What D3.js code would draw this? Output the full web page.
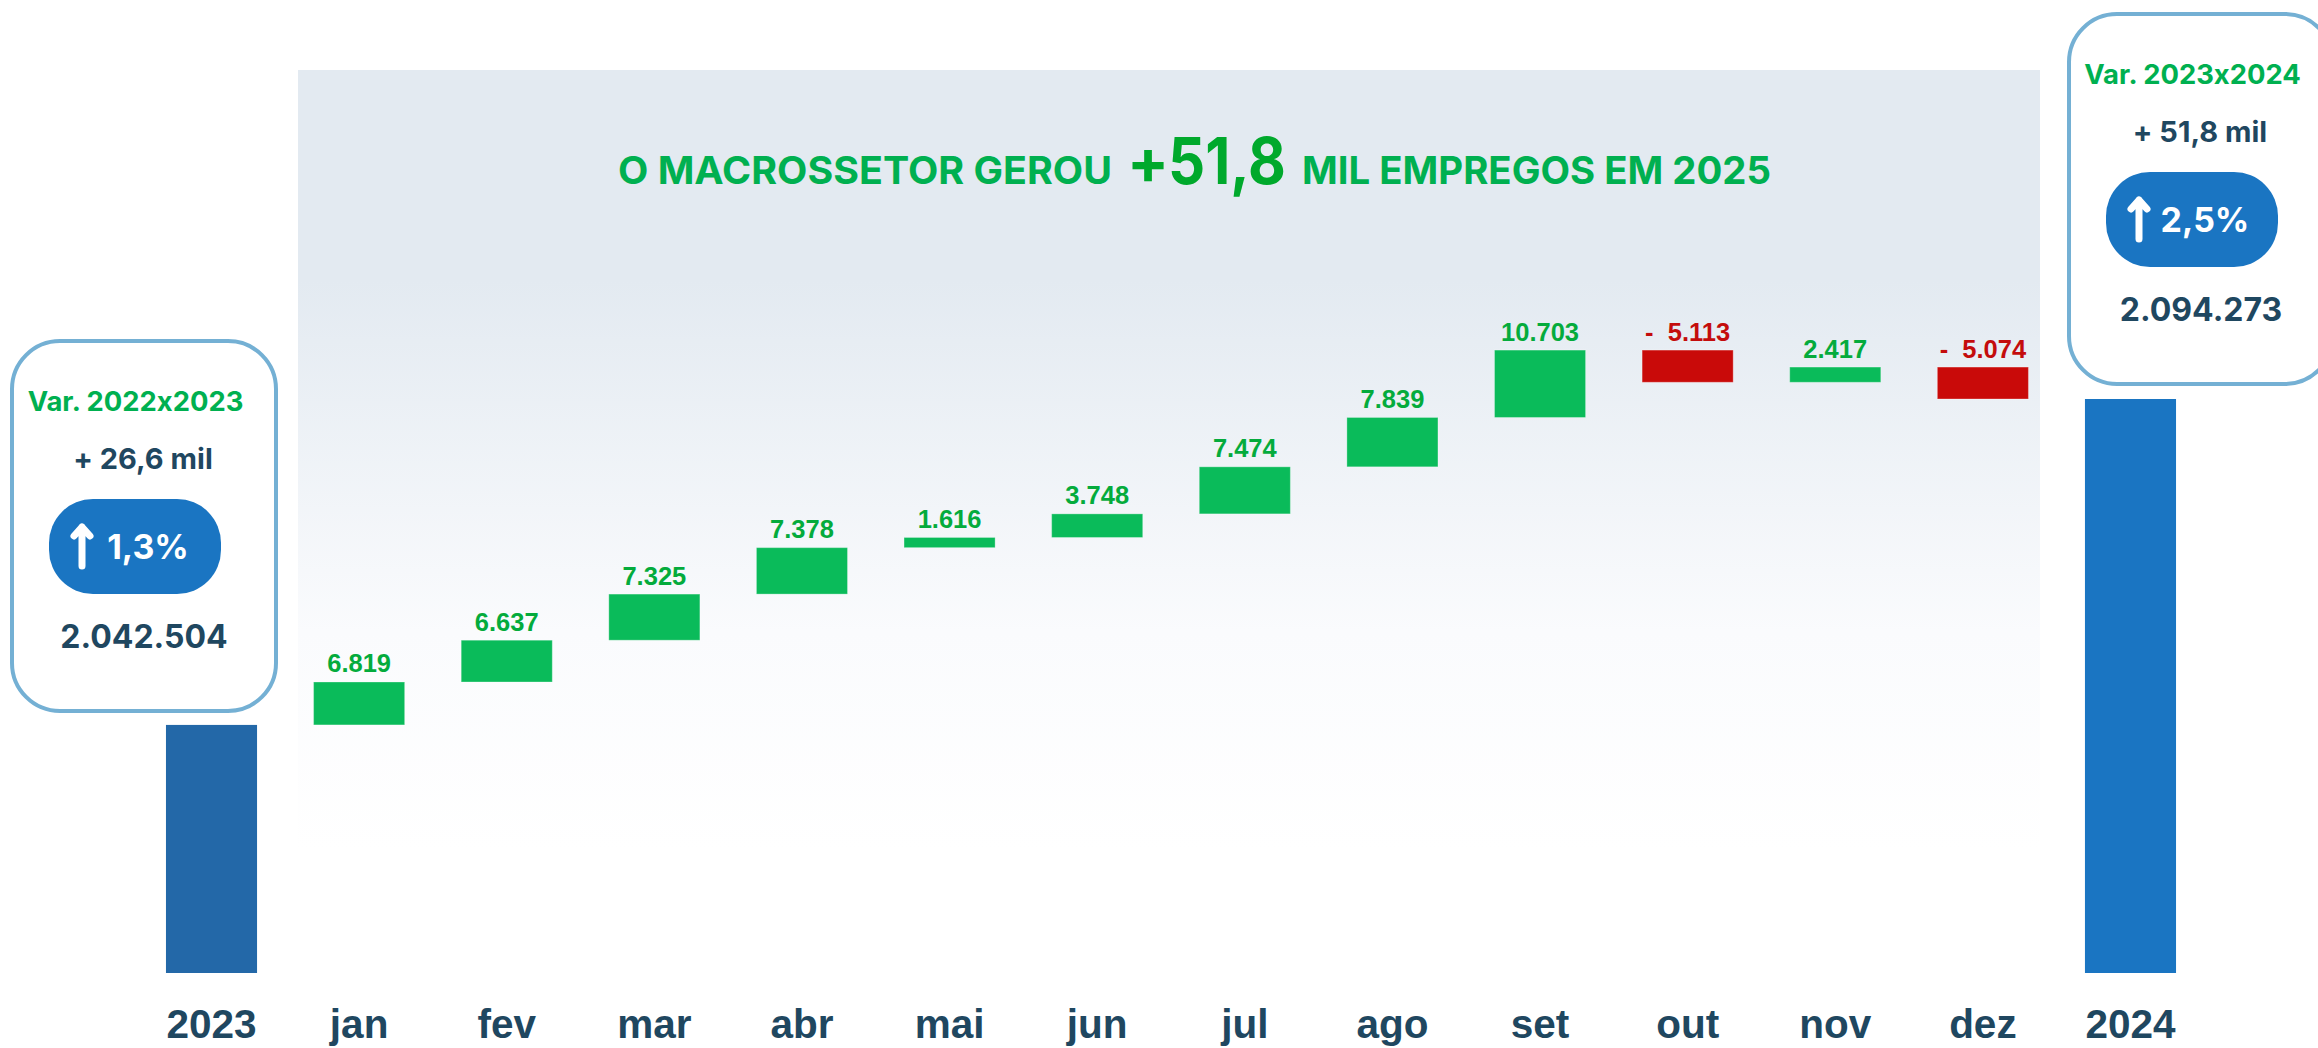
<!DOCTYPE html>
<html lang="pt-BR">
<head>
<meta charset="utf-8">
<title>Macrossetor 2025</title>
<script src="https://cdn.jsdelivr.net/npm/d3@7"></script>
<style>
  html, body { margin: 0; padding: 0; background: #fff; overflow: hidden; }
  svg { display: block; }
  text { white-space: pre; font-feature-settings: "calt" 0; }
</style>
</head>
<body>
<div id="chart"></div>
<script>
// Chart data
const months = ["jan", "fev", "mar", "abr", "mai", "jun", "jul", "ago", "set", "out", "nov", "dez"];
const monthValues = [6819, 6637, 7325, 7378, 1616, 3748, 7474, 7839, 10703, -5113, 2417, -5074];
const years = ["2023", "2024"];
const yearValues = [2042504, 2094273];
const varLabels = ["Var. 2022x2023", "Var. 2023x2024"];
const varAmounts = ["+ 26,6 mil", "+ 51,8 mil"];
const varPercents = ["1,3%", "2,5%"];
const axisFloor = 2003100; // the y axis is cut here in the original
const titleParts = ["O MACROSSETOR GEROU", "+", "51,8", "MIL EMPREGOS EM 2025"];

const width = 2318,
  height = 1048;

const svg = d3
  .select("#chart")
  .append("svg")
  .attr("width", width)
  .attr("height", height);

const ptBR = d3.formatLocale({ decimal: ",", thousands: ".", grouping: [3], currency: ["R$", ""] });
const fmt = ptBR.format(",d");

const labelFont = "'Liberation Sans', Arial, sans-serif";
const calloutFont = "Inter, 'Noto Sans', sans-serif";

// Background panel
const defs = svg.append("defs");
const panelGradient = defs
  .append("linearGradient")
  .attr("id", "panelFill")
  .attr("x1", 0)
  .attr("y1", 0)
  .attr("x2", 0)
  .attr("y2", 1);
panelGradient.append("stop").attr("offset", "0%").attr("stop-color", "#e3eaf1");
panelGradient.append("stop").attr("offset", "27%").attr("stop-color", "#e3eaf1");
panelGradient.append("stop").attr("offset", "72%").attr("stop-color", "#fafbfd");
panelGradient.append("stop").attr("offset", "100%").attr("stop-color", "#ffffff");

svg
  .append("rect")
  .attr("x", 298)
  .attr("y", 70)
  .attr("width", 1742)
  .attr("height", 780)
  .attr("fill", "url(#panelFill)");

// Waterfall steps
let running = yearValues[0];
const steps = monthValues.map((value, i) => {
  const start = running;
  running += value;
  return { month: months[i], value, start, end: running };
});

const categories = [years[0], ...months, years[1]];

const xScale = d3
  .scaleBand()
  .domain(categories)
  .range([137.7, 2204.3])
  .paddingInner(0.383)
  .paddingOuter(0.1915);

const yScale = d3
  .scaleLinear()
  .domain([axisFloor, yearValues[1]])
  .range([973, 399]);

const barEdge = "rgba(255,255,255,0.3)";

// Year totals
svg
  .append("g")
  .selectAll("rect")
  .data(years)
  .enter()
  .append("rect")
  .attr("x", (d) => xScale(d))
  .attr("y", (d, i) => yScale(yearValues[i]))
  .attr("width", xScale.bandwidth())
  .attr("height", (d, i) => yScale(axisFloor) - yScale(yearValues[i]))
  .attr("fill", (d, i) => (i === 0 ? "#2368a8" : "#1a75c2"));

// Monthly bars
svg
  .append("g")
  .selectAll("rect")
  .data(steps)
  .enter()
  .append("rect")
  .attr("x", (d) => xScale(d.month))
  .attr("y", (d) => yScale(Math.max(d.start, d.end)))
  .attr("width", xScale.bandwidth())
  .attr("height", (d) => Math.abs(yScale(d.start) - yScale(d.end)))
  .attr("fill", (d) => (d.value < 0 ? "#c90a09" : "#0abb5a"))
  .attr("stroke", barEdge);

// Monthly labels
svg
  .append("g")
  .selectAll("text")
  .data(steps)
  .enter()
  .append("text")
  .attr("x", (d) => xScale(d.month) + xScale.bandwidth() / 2)
  .attr("y", (d) => yScale(Math.max(d.start, d.end)) - 9.5)
  .attr("text-anchor", "middle")
  .attr("font-family", labelFont)
  .attr("font-weight", 700)
  .attr("font-size", 25.5)
  .attr("fill", (d) => (d.value < 0 ? "#c40c0c" : "#04ab3c"))
  .text((d) => (d.value < 0 ? "-  " + fmt(-d.value) : fmt(d.value)));

// Category axis
const xAxis = svg
  .append("g")
  .attr("transform", "translate(0,973)")
  .call(d3.axisBottom(xScale).tickSize(0).tickPadding(36.5));
xAxis.select(".domain").remove();
xAxis
  .selectAll("text")
  .attr("font-family", labelFont)
  .attr("font-weight", 700)
  .attr("font-size", 40.5)
  .attr("fill", "#1f4760");

// Title
const titleGreen = "#00b050";
const title = svg
  .append("g")
  .attr("font-family", calloutFont)
  .attr("font-weight", 700);
title
  .append("text")
  .attr("x", 618)
  .attr("y", 184)
  .attr("font-size", 38)
  .attr("textLength", 494)
  .attr("lengthAdjust", "spacingAndGlyphs")
  .attr("fill", titleGreen)
  .text(titleParts[0]);
title
  .append("text")
  .attr("x", 1127)
  .attr("y", 184)
  .attr("font-size", 62)
  .attr("fill", "#00a92c")
  .text(titleParts[1]);
title
  .append("text")
  .attr("x", 1168)
  .attr("y", 184)
  .attr("font-size", 65)
  .attr("textLength", 118)
  .attr("lengthAdjust", "spacingAndGlyphs")
  .attr("fill", "#00a92c")
  .text(titleParts[2]);
title
  .append("text")
  .attr("x", 1302)
  .attr("y", 184)
  .attr("font-size", 38)
  .attr("textLength", 469)
  .attr("lengthAdjust", "spacingAndGlyphs")
  .attr("fill", titleGreen)
  .text(titleParts[3]);

// Callouts, the second one is the first shifted up and right
const callouts = svg
  .append("g")
  .selectAll("g")
  .data(years)
  .enter()
  .append("g")
  .attr("transform", (d, i) => (i === 0 ? null : "translate(2057,-327)"))
  .attr("font-family", calloutFont)
  .attr("font-weight", 700)
  .attr("text-anchor", "middle");

callouts
  .append("rect")
  .attr("x", 12)
  .attr("y", 341)
  .attr("width", 264)
  .attr("height", 370)
  .attr("rx", 48)
  .attr("fill", "#fff")
  .attr("stroke", "#74b0d4")
  .attr("stroke-width", 4);

callouts
  .append("text")
  .attr("x", 135.5)
  .attr("y", 411)
  .attr("font-size", 27.4)
  .attr("fill", titleGreen)
  .text((d, i) => varLabels[i]);

callouts
  .append("text")
  .attr("x", 143)
  .attr("y", 469)
  .attr("font-size", 29)
  .attr("fill", "#1f4760")
  .text((d, i) => varAmounts[i]);

callouts
  .append("rect")
  .attr("x", 49)
  .attr("y", 499)
  .attr("width", 172)
  .attr("height", 95)
  .attr("rx", 44)
  .attr("fill", "#1a75c2");

callouts
  .append("path")
  .attr("d", "M82 566V527M74 536L82 527L90 536")
  .attr("fill", "none")
  .attr("stroke", "#fff")
  .attr("stroke-width", 7)
  .attr("stroke-linecap", "round")
  .attr("stroke-linejoin", "round");

callouts
  .append("text")
  .attr("x", 148)
  .attr("y", 559)
  .attr("font-size", 34)
  .attr("fill", "#fff")
  .text((d, i) => varPercents[i]);

callouts
  .append("text")
  .attr("x", 144)
  .attr("y", 648)
  .attr("font-size", 32)
  .attr("fill", "#1f4760")
  .text((d, i) => fmt(yearValues[i]));
</script>
</body>
</html>
